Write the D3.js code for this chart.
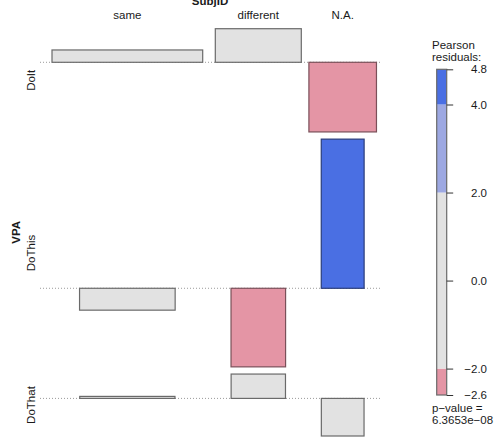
<!DOCTYPE html>
<html>
<head>
<meta charset="utf-8">
<script src="https://cdn.jsdelivr.net/npm/d3@7"></script>
<style>
  body { margin: 0; background: #fff; }
  text { font-family: "Liberation Sans", Arial, sans-serif; fill: #1a1a1a; }
</style>
</head>
<body>
<div id="chart"></div>
<script>
// categories
var rowLabels = ["DoIt", "DoThis", "DoThat"];
var colLabels = ["same", "different", "N.A."];

// marginal totals (from box widths) and pearson residuals (from box heights)
var rowTotals = [333, 134, 133];
var colTotals = [393, 128, 79];
var residuals = [
    [0.40, 1.09, -2.26],
    [-0.71, -2.55, 4.84],
    [0.065, 0.79, -1.22]
];

// legend
var legendTicks = [-2.6, -2, 0, 2, 4, 4.8];
var legendTickLabels = ["\u22122.6", "\u22122.0", "0.0", "2.0", "4.0", "4.8"];
var pValueText = ["p\u2212value =", "6.3653e\u221208"];

var svgWidth = 499;
var svgHeight = 442;

var svg = d3.select("#chart")
    .append("svg")
    .attr("width", svgWidth)
    .attr("height", svgHeight);

var total = d3.sum(rowTotals);

// sqrt(expected) for each cell
var cells = [];
rowTotals.forEach(function(r, i) {
    colTotals.forEach(function(c, j) {
        cells.push({
            row: i,
            col: j,
            sqrtE: Math.sqrt(r * c / total),
            res: residuals[i][j]
        });
    });
});

// widths: box width proportional to sqrt(expected)
var maxSqrtE = d3.max(cells, d => d.sqrtE);
var wScale = d3.scaleLinear().domain([0, maxSqrtE]).range([0, 150.7]);

var colWidth = colTotals.map((c, j) => d3.max(cells.filter(d => d.col == j), d => d.sqrtE));
var colGaps = [0, 12.6, 7.6];
var colLeft = [];
var xCur = 52;
colWidth.forEach(function(w, j) {
    xCur += colGaps[j];
    colLeft.push(xCur);
    xCur += wScale(w);
});
var colCenter = colLeft.map((x, j) => x + wScale(colWidth[j]) / 2);

// heights: box height proportional to residual
var rowUp = rowLabels.map((r, i) => Math.max(0, d3.max(residuals[i])));
var rowDown = rowLabels.map((r, i) => Math.max(0, -d3.min(residuals[i])));
var plotTop = 28.7;
var plotBottom = 436;
var rowGap = 7.2;
var unit = (plotBottom - plotTop - rowGap * (rowLabels.length - 1)) / (d3.sum(rowUp) + d3.sum(rowDown));
var hScale = d3.scaleLinear().domain([0, 1]).range([0, unit]);

var rowBase = [];
var rowTop = [];
var yCur = plotTop;
rowLabels.forEach(function(r, i) {
    rowTop.push(yCur);
    rowBase.push(yCur + hScale(rowUp[i]));
    yCur += hScale(rowUp[i]) + hScale(rowDown[i]) + rowGap;
});
var rowMid = rowLabels.map((r, i) => (rowTop[i] + rowBase[i] + hScale(rowDown[i])) / 2);

// shading like vcd::shading_hcl
function fillColor(r) {
    if (r > 4) return "#4a6fe3";
    if (r > 2) return "#9da8e2";
    if (r < -4) return "#d33f6a";
    if (r < -2) return "#e495a5";
    return "#e2e2e2";
}
function strokeColor(r) {
    if (r > 4) return "#2b3d7a";
    if (r > 2) return "#5a6390";
    if (r < -2) return "#7a5059";
    return "#6a6a6a";
}

// baselines
svg.selectAll(".baseline")
    .data(rowBase)
    .enter()
    .append("line")
    .attr("class", "baseline")
    .attr("x1", 40)
    .attr("x2", 380)
    .attr("y1", d => d)
    .attr("y2", d => d)
    .attr("stroke", "#9a9a9a")
    .attr("stroke-width", 1)
    .attr("stroke-dasharray", "1,2");

// boxes
svg.selectAll(".cell")
    .data(cells)
    .enter()
    .append("rect")
    .attr("class", "cell")
    .attr("x", d => colCenter[d.col] - wScale(d.sqrtE) / 2)
    .attr("width", d => wScale(d.sqrtE))
    .attr("y", d => d.res > 0 ? rowBase[d.row] - hScale(d.res) : rowBase[d.row])
    .attr("height", d => hScale(Math.abs(d.res)))
    .attr("fill", d => fillColor(d.res))
    .attr("stroke", d => strokeColor(d.res))
    .attr("stroke-width", 1.2);

// column labels
svg.append("text")
    .attr("x", 210)
    .attr("y", 5)
    .attr("text-anchor", "middle")
    .attr("font-size", "11.5px")
    .attr("font-weight", "bold")
    .text("SubjID");

svg.selectAll(".colLabel")
    .data(colLabels)
    .enter()
    .append("text")
    .attr("class", "colLabel")
    .attr("x", (d, j) => colCenter[j])
    .attr("y", 18.5)
    .attr("text-anchor", "middle")
    .attr("font-size", "11.5px")
    .text(d => d);

// row labels
svg.append("text")
    .attr("transform", `translate(19.5, ${(plotTop + plotBottom) / 2}) rotate(-90)`)
    .attr("text-anchor", "middle")
    .attr("font-size", "11.5px")
    .attr("font-weight", "bold")
    .text("VPA");

svg.selectAll(".rowLabel")
    .data(rowLabels)
    .enter()
    .append("text")
    .attr("class", "rowLabel")
    .attr("transform", (d, i) => `translate(35, ${rowMid[i]}) rotate(-90)`)
    .attr("text-anchor", "middle")
    .attr("font-size", "11.5px")
    .text(d => d);

// legend
var legendX = 436.7;
var legendW = 10;
var lScale = d3.scaleLinear()
    .domain(d3.extent(legendTicks))
    .range([395, 69.3]);

var bands = [[-2.6, -2], [-2, 2], [2, 4], [4, 4.8]];
svg.selectAll(".band")
    .data(bands)
    .enter()
    .append("rect")
    .attr("class", "band")
    .attr("x", legendX)
    .attr("width", legendW)
    .attr("y", d => lScale(d[1]))
    .attr("height", d => lScale(d[0]) - lScale(d[1]))
    .attr("fill", d => fillColor((d[0] + d[1]) / 2));

svg.append("rect")
    .attr("x", legendX)
    .attr("width", legendW)
    .attr("y", lScale(4.8))
    .attr("height", lScale(-2.6) - lScale(4.8))
    .attr("fill", "none")
    .attr("stroke", "#6a6a6a")
    .attr("stroke-width", 1.2);

var legendAxis = d3.axisRight(lScale)
    .tickValues(legendTicks)
    .tickSize(6.5)
    .tickPadding(0)
    .tickFormat((d, i) => legendTickLabels[i]);

var lg = svg.append("g")
    .attr("transform", `translate(${legendX + legendW}, 0)`)
    .call(legendAxis);
lg.select(".domain").remove();
lg.selectAll(".tick line").attr("stroke", "#333");
lg.selectAll(".tick text")
    .attr("x", 40.3)
    .attr("text-anchor", "end")
    .attr("font-family", "Liberation Sans, Arial, sans-serif")
    .attr("font-size", "11.5px")
    .attr("fill", "#1a1a1a");

svg.selectAll(".legendTitle")
    .data(["Pearson", "residuals:"])
    .enter()
    .append("text")
    .attr("class", "legendTitle")
    .attr("x", 432)
    .attr("y", (d, i) => 49 + i * 12)
    .attr("font-size", "11.5px")
    .text(d => d);

svg.selectAll(".pval")
    .data(pValueText)
    .enter()
    .append("text")
    .attr("class", "pval")
    .attr("x", 432)
    .attr("y", (d, i) => 412 + i * 11.5)
    .attr("font-size", "11.5px")
    .text(d => d);
</script>
</body>
</html>
